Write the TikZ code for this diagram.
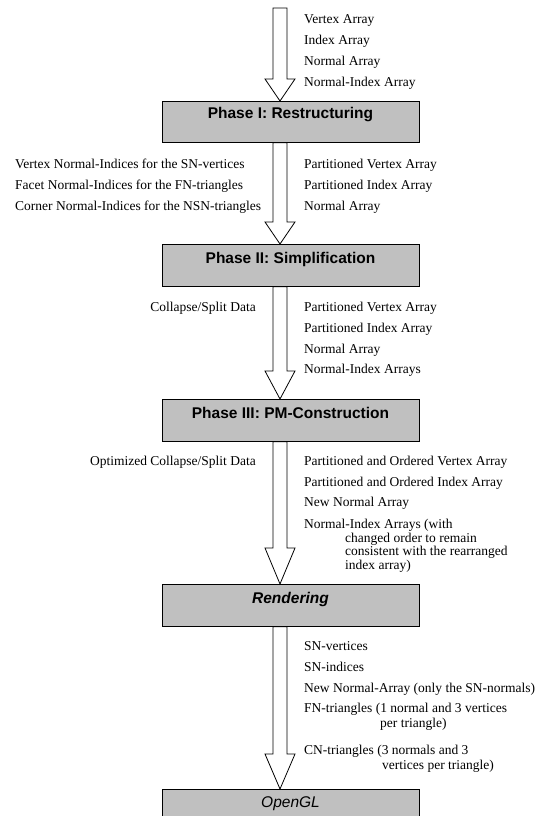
\documentclass[tikz,border=0pt]{standalone}
\usepackage{fontspec}
\setmainfont{Liberation Serif}
\setsansfont{Liberation Sans}
\usetikzlibrary{calc}
\definecolor{boxgray}{RGB}{192,192,192}
\newcommand\blockarrow[3]{%
  \draw[blk] let \p1=(#1), \p2=(#2) in
    (\x1-7pt,\y1) -- (\x1-7pt,\y2+#3pt) -- (\x1-15pt,\y2+#3pt) -- (\x1,\y2)
    -- (\x1+15pt,\y2+#3pt) -- (\x1+7pt,\y2+#3pt) -- (\x1+7pt,\y1) -- cycle;}
\begin{document}
\begin{tikzpicture}[x=1pt,y=-1pt,
  phase/.style={draw=black, line width=0.8pt, fill=boxgray, minimum width=257pt,
    minimum height=41pt, anchor=north west, inner sep=0pt},
  ptitle/.style={font=\sffamily\bfseries\fontsize{15.5}{18}\selectfont, inner sep=0pt},
  lbl/.style={font=\fontsize{13.5}{16}\selectfont, inner sep=0pt, anchor=mid west},
  lblr/.style={font=\fontsize{13.5}{16}\selectfont, inner sep=0pt, anchor=mid east},
  blk/.style={draw=black, line width=0.8pt, fill=white, line join=miter}]
\clip (0,0) rectangle (544,816);
\fill[white] (0,0) rectangle (544,816);
\coordinate (ax) at (280,0);
\coordinate (a1top) at (280,8);
% boxes (named) first for arrow geometry
\path (162,101) node[phase, draw=none, fill=none] (p1) {}
      (162,244) node[phase, draw=none, fill=none, minimum height=42pt] (p2) {}
      (162,399) node[phase, draw=none, fill=none, minimum height=42pt] (p3) {}
      (162,584) node[phase, draw=none, fill=none, minimum height=42pt] (p4) {}
      (162,789) node[phase, draw=none, fill=none] (p5) {};
% arrows
\blockarrow{a1top}{ax |- p1.north}{22}
\blockarrow{ax |- p1.south}{ax |- p2.north}{22}
\blockarrow{ax |- p2.south}{ax |- p3.north}{28}
\blockarrow{ax |- p3.south}{ax |- p4.north}{36}
\blockarrow{ax |- p4.south}{ax |- p5.north}{35}
% visible boxes
\node[phase] (b1) at (162,101) {};
\node[phase, minimum height=42pt] (b2) at (162,244) {};
\node[phase, minimum height=42pt] (b3) at (162,399) {};
\node[phase, minimum height=42pt] (b4) at (162,584) {};
\node[phase] (b5) at (162,789) {};
\node[ptitle] (t1) at (290.5,115) {Phase I: Restructuring};
\node[ptitle] (t2) at (290.5,259) {Phase II: Simplification};
\node[ptitle] (t3) at (290.5,413) {Phase III: PM-Construction};
\node[ptitle, font=\sffamily\bfseries\itshape\fontsize{15.5}{18}\selectfont] (t4) at (290.5,599) {Rendering};
\node[ptitle, font=\sffamily\itshape\fontsize{15.5}{18}\selectfont] (t5) at (290.5,804) {OpenGL};
% labels arrow 1
\node[lbl] (l11) at (304,21) {Vertex Array};
\node[lbl] (l12) at (304,42) {Index Array};
\node[lbl] (l13) at (304,63) {Normal Array};
\node[lbl] (l14) at (304,84) {Normal-Index Array};
% labels arrow 2
\node[lbl] (l21) at (15,166) {Vertex Normal-Indices for the SN-vertices};
\node[lbl] (l22) at (15,187) {Facet Normal-Indices for the FN-triangles};
\node[lbl] (l23) at (15,208) {Corner Normal-Indices for the NSN-triangles};
\node[lbl] (r21) at (304,166) {Partitioned Vertex Array};
\node[lbl] (r22) at (304,187) {Partitioned Index Array};
\node[lbl] (r23) at (304,208) {Normal Array};
% labels arrow 3
\node[lblr] (l31) at (256,309) {Collapse/Split Data};
\node[lbl] (r31) at (304,309) {Partitioned Vertex Array};
\node[lbl] (r32) at (304,330) {Partitioned Index Array};
\node[lbl] (r33) at (304,351) {Normal Array};
\node[lbl] (r34) at (304,371) {Normal-Index Arrays};
% labels arrow 4
\node[lblr] (l41) at (256,463) {Optimized Collapse/Split Data};
\node[lbl] (r41) at (304,463) {Partitioned and Ordered Vertex Array};
\node[lbl] (r42) at (304,484) {Partitioned and Ordered Index Array};
\node[lbl] (r43) at (304,504) {New Normal Array};
\node[lbl] (r44) at (304,526) {Normal-Index Arrays (with};
\node[lbl] (r45) at (345,540) {changed order to remain};
\node[lbl] (r46) at (345,553) {consistent with the rearranged};
\node[lbl] (r47) at (345,567) {index array)};
% labels arrow 5
\node[lbl] (r51) at (304,648) {SN-vertices};
\node[lbl] (r52) at (304,669) {SN-indices};
\node[lbl] (r53) at (304,690) {New Normal-Array (only the SN-normals)};
\node[lbl] (r54) at (304,710) {FN-triangles (1 normal and 3 vertices};
\node[lbl] (r55) at (380,725) {per triangle)};
\node[lbl] (r56) at (304,752) {CN-triangles (3 normals and 3};
\node[lbl] (r57) at (382,767) {vertices per triangle)};
\end{tikzpicture}
\end{document}
